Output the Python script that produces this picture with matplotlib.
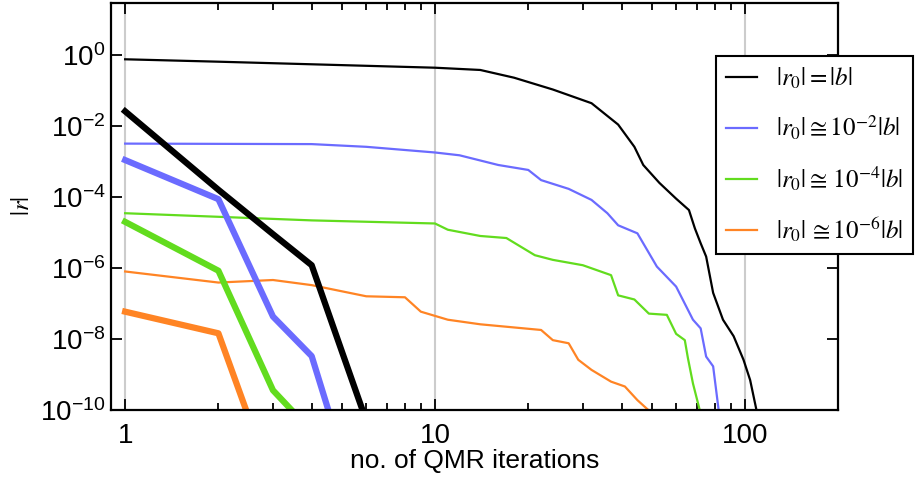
import matplotlib.pyplot as plt
from matplotlib.ticker import FixedLocator, NullLocator, LogLocator, FixedFormatter

plt.rcParams['font.family'] = ['Liberation Sans', 'DejaVu Sans']
plt.rcParams['mathtext.fontset'] = 'stix'

# thin curves: |r0| started from different sizes (long runs)
it_a = [1, 2, 10, 14, 18, 24, 32, 39, 44, 47, 53, 60, 66, 69, 72, 75, 79, 85, 92, 99, 104, 109]
res_a = [0.76, 0.65, 0.44, 0.38, 0.23, 0.107, 0.044, 0.011, 2.6e-3, 8e-4, 2.5e-4, 9e-5,
         4.3e-5, 1.3e-5, 5e-6, 2.1e-6, 2e-7, 3.5e-8, 1.2e-8, 2.6e-9, 7e-10, 1e-10]

it_b = [1, 4, 6, 10, 12, 16, 20, 22, 27, 32, 36, 39, 45, 52, 60, 68, 72, 75, 79, 82.3]
res_b = [3.2e-3, 3.1e-3, 2.6e-3, 1.8e-3, 1.5e-3, 8e-4, 5.8e-4, 3e-4, 1.7e-4, 8.3e-5,
         3.5e-5, 1.6e-5, 9.5e-6, 1.1e-6, 3e-7, 3.5e-8, 2e-8, 3.2e-9, 1.7e-9, 1e-10]

it_c = [1, 4, 10, 11, 14, 17, 21, 24, 30, 37, 39, 44, 49, 56, 60, 64, 65.5, 68, 71.5]
res_c = [3.5e-5, 2.2e-5, 1.8e-5, 1.2e-5, 8e-6, 7e-6, 2.3e-6, 1.7e-6, 1.2e-6, 6.3e-7,
         1.7e-7, 1.3e-7, 5.2e-8, 4.8e-8, 1.4e-8, 9.3e-9, 2.9e-9, 5.6e-10, 1e-10]

it_d = [1, 2, 3, 4, 6, 8, 9, 11, 14, 22, 24, 27, 29, 32, 37, 41, 45, 48.8]
res_d = [8e-7, 3.9e-7, 4.6e-7, 3.3e-7, 1.6e-7, 1.5e-7, 5.9e-8, 3.5e-8, 2.6e-8, 1.8e-8,
         9.3e-9, 7.6e-9, 2.6e-9, 1.35e-9, 6.3e-10, 4.6e-10, 1.9e-10, 1e-10]

# thick curves: short runs
it_e = [1, 2, 3, 4, 5, 6]
res_e = [2.6e-2, 1.6e-4, 9e-6, 1.2e-6, 4.6e-9, 5e-11]
it_f = [1, 2, 3, 4, 5]
res_f = [1.1e-3, 8.7e-5, 4.3e-8, 3.3e-9, 6e-12]
it_g = [1, 2, 3, 4]
res_g = [2e-5, 8.4e-7, 3.6e-10, 2.5e-11]
it_h = [1, 2, 3]
res_h = [5.9e-8, 1.45e-8, 8e-13]

x_ticks = [1, 10, 100]
x_ticklabels = ['1', '10', '100']
y_ticks = [1e0, 1e-2, 1e-4, 1e-6, 1e-8, 1e-10]

labels = [r'$|r_{0}| = |b|$',
          r'$|r_{0}| \cong \mathrm{10}^{-2}|b|$',
          r'$|r_{0}| \cong\, \mathrm{10}^{-4}|b|$',
          r'$|r_{0}|\, \cong \mathrm{10}^{-6}|b|$']

black = 'black'
blue = '#6b6bff'
green = '#62dc1e'
orange = '#ff8424'

fig = plt.figure(figsize=(9.17, 4.79), dpi=100)
ax = fig.add_axes([0.121, 0.144, 0.793, 0.85])

for xv in x_ticks:
    ax.axvline(xv, color='#cccccc', lw=1.5, zorder=0)

ax.plot(it_a, res_a, color=black, lw=1.6, label=labels[0])
ax.plot(it_b, res_b, color=blue, lw=1.6, label=labels[1])
ax.plot(it_c, res_c, color=green, lw=1.6, label=labels[2])
ax.plot(it_d, res_d, color=orange, lw=1.6, label=labels[3])

ax.plot(it_e, res_e, color=black, lw=4.5)
ax.plot(it_f, res_f, color=blue, lw=4.5)
ax.plot(it_g, res_g, color=green, lw=4.5)
ax.plot(it_h, res_h, color=orange, lw=4.5)

ax.set_xscale('log')
ax.set_yscale('log')
ax.set_xlim(0.9, 200)
ax.set_ylim(1e-10, 10 ** 1.47)

ax.xaxis.set_major_locator(FixedLocator(x_ticks))
ax.xaxis.set_major_formatter(FixedFormatter(x_ticklabels))
ax.xaxis.set_minor_locator(LogLocator(base=10, subs=range(2, 10)))
ax.yaxis.set_major_locator(FixedLocator(y_ticks))
ax.yaxis.set_minor_locator(NullLocator())

ax.tick_params(which='both', direction='in', top=True, right=True, width=1.3)
ax.tick_params(which='major', length=8, labelsize=20)
ax.tick_params(which='minor', length=5)
ax.tick_params(axis='x', which='major', pad=9)
ax.tick_params(axis='y', which='major', pad=4)
for s in ax.spines.values():
    s.set_linewidth(1.6)

ax.set_xlabel('no. of QMR iterations', fontsize=19, labelpad=0)
ax.set_ylabel(r'$|r|$', fontsize=18, labelpad=4)

leg = fig.legend(loc='upper left', bbox_to_anchor=(0.781, 0.883), fontsize=18,
                 frameon=True, fancybox=False, edgecolor='black', framealpha=1,
                 handlelength=1.25, handletextpad=0.75, labelspacing=0.9,
                 borderpad=0.4, borderaxespad=0)
leg.get_frame().set_linewidth(1.5)
for ln in leg.get_lines():
    ln.set_linewidth(1.6)

fig.savefig('out.png', dpi=100)
